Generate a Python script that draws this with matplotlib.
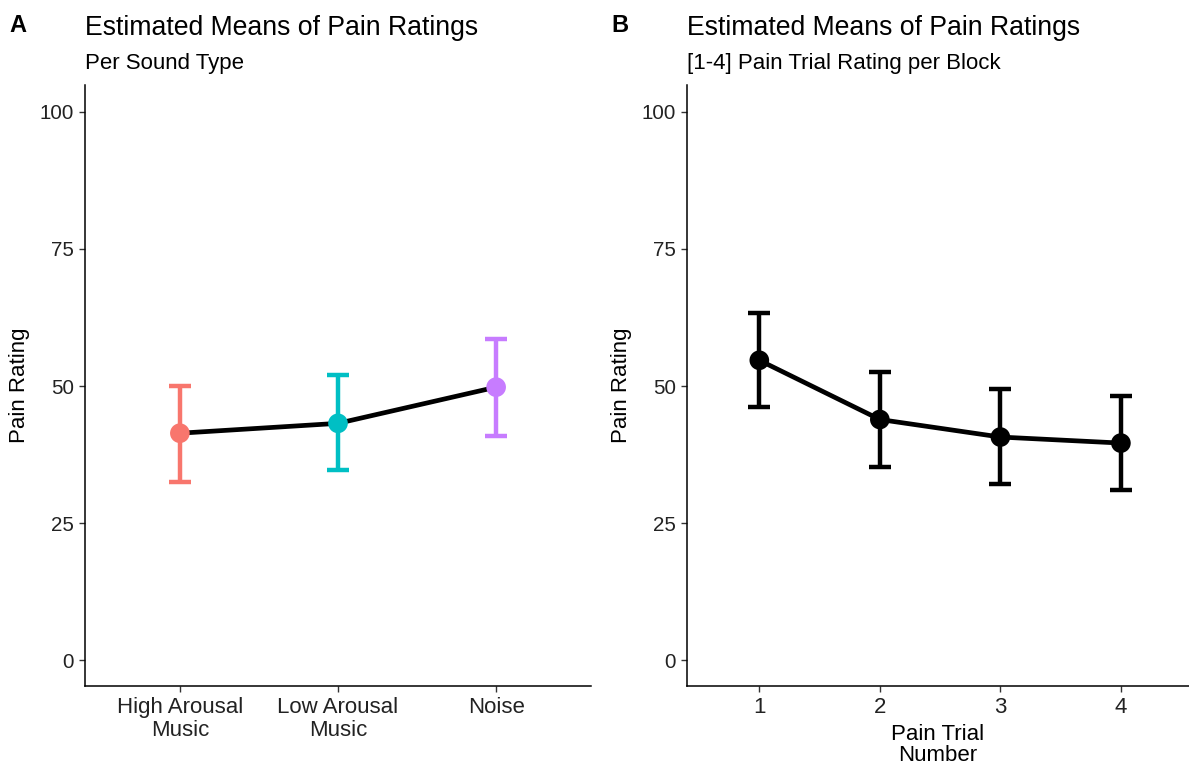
import numpy as np
import matplotlib
matplotlib.use('Agg')
import matplotlib.pyplot as plt

plt.rcParams['font.family'] = ['Liberation Sans', 'DejaVu Sans']

# panel A: sound type
sound_labels = ['High Arousal\nMusic', 'Low Arousal\nMusic', 'Noise']
sound_mean = [41.4, 43.2, 49.8]
sound_low = [32.5, 34.6, 40.9]
sound_high = [50.0, 52.0, 58.5]
sound_colors = ['#F8766D', '#00BFC4', '#C77CFF']

# panel B: pain trial number
trial_labels = ['1', '2', '3', '4']
trial_mean = [54.7, 43.9, 40.7, 39.6]
trial_low = [46.1, 35.3, 32.1, 31.0]
trial_high = [63.3, 52.6, 49.4, 48.2]

yticks = [0, 25, 50, 75, 100]

fig = plt.figure(figsize=(11.89, 7.65), dpi=100)
axA = fig.add_axes([85/1189, 79/765, 506/1189, 601/765])
axB = fig.add_axes([687/1189, 79/765, 502/1189, 601/765])

def style(ax, xlim, labels):
	ax.set_ylim(-4.7, 104.9)
	ax.set_xlim(*xlim)
	ax.set_yticks(yticks)
	ax.set_xticks(np.arange(1, len(labels) + 1))
	ax.set_xticklabels(labels, fontsize=16, color='#222222', linespacing=1.1)
	ax.tick_params(axis='y', labelsize=14.8, labelcolor='#222222')
	ax.tick_params(length=4, width=1, color='#333333', pad=4)
	for s in ['top', 'right']:
		ax.spines[s].set_visible(False)
	for s in ['left', 'bottom']:
		ax.spines[s].set_linewidth(1.1)
	ax.set_ylabel('Pain Rating', fontsize=16, labelpad=7)

def draw(ax, mean, low, high, colors):
	x = np.arange(1, len(mean) + 1)
	for i in range(len(mean)):
		ax.errorbar(x[i], mean[i], yerr=[[mean[i] - low[i]], [high[i] - mean[i]]],
			fmt='none', ecolor=colors[i], elinewidth=3.2, capsize=8, capthick=3.2, zorder=2)
	ax.plot(x, mean, color='black', lw=3.4, zorder=3)
	ax.scatter(x, mean, s=200, c=colors, zorder=4, linewidths=0)

style(axA, (0.4, 3.6), sound_labels)
draw(axA, sound_mean, sound_low, sound_high, sound_colors)

style(axB, (0.4, 4.565), trial_labels)
draw(axB, trial_mean, trial_low, trial_high, ['black'] * 4)
axB.set_xlabel('Pain Trial\nNumber', fontsize=16, linespacing=1.0, labelpad=4)

for ax, letter, sub in [(axA, 'A', 'Per Sound Type'), (axB, 'B', '[1-4] Pain Trial Rating per Block')]:
	x0 = ax.get_position().x0
	fig.text(x0, 1 - 35/765, 'Estimated Means of Pain Ratings', fontsize=19.2, va='baseline', ha='left')
	fig.text(x0, 1 - 69/765, sub, fontsize=16, va='baseline', ha='left')
	fig.text(x0 - 76/1189, 1 - 32/765, letter, fontsize=17, fontweight='bold', va='baseline', ha='left')

fig.savefig('out.png', dpi=100)
